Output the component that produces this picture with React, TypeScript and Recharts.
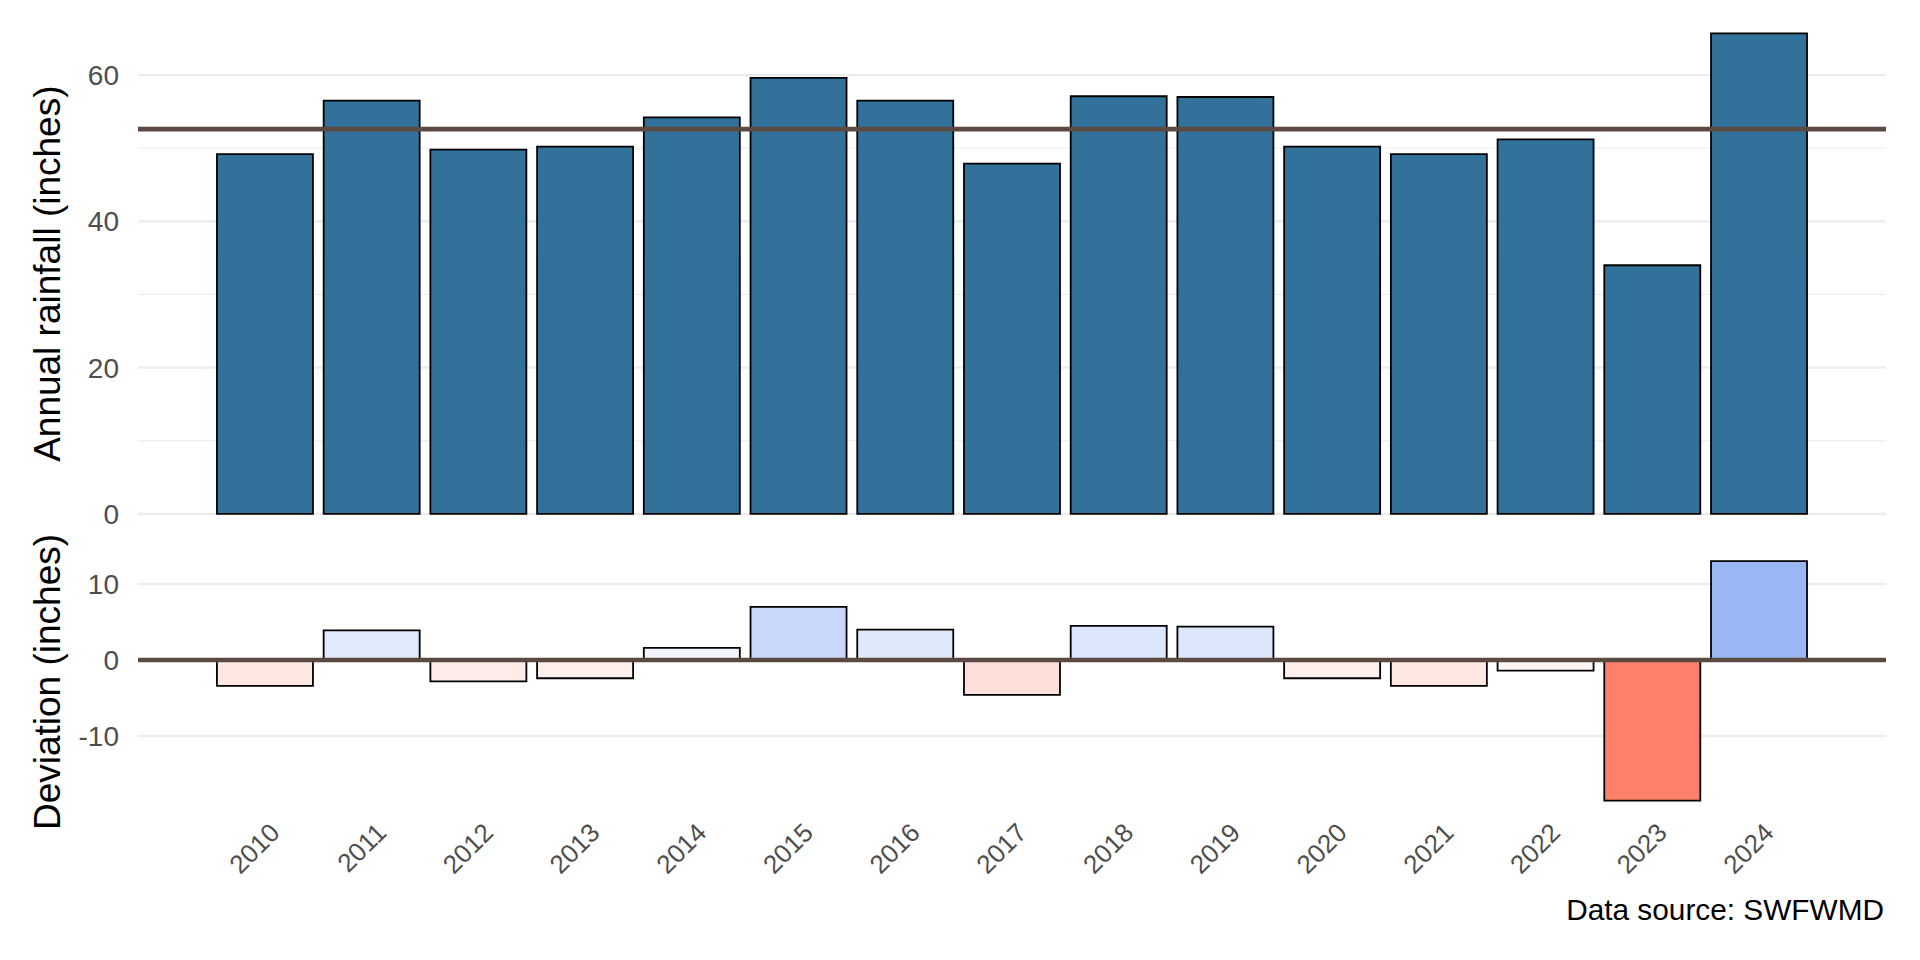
import React from 'react';
import {
  BarChart,
  Bar,
  XAxis,
  YAxis,
  CartesianGrid,
  ReferenceLine,
  Cell,
} from 'recharts';

const years = [
  '2010', '2011', '2012', '2013', '2014', '2015', '2016', '2017',
  '2018', '2019', '2020', '2021', '2022', '2023', '2024',
];
const rainfall = [
  49.2, 56.5, 49.8, 50.2, 54.2, 59.6, 56.5, 47.9, 57.1, 57.0, 50.2, 49.2,
  51.2, 34.0, 65.7,
];
const deviation = [
  -3.4, 3.9, -2.8, -2.4, 1.6, 7.0, 4.0, -4.6, 4.5, 4.4, -2.4, -3.4, -1.4,
  -18.5, 13.0,
];
const meanRainfall = 52.6;

const rainTicks = [0, 20, 40, 60];
const rainMinorTicks = [10, 30, 50];
const devTicks = [-10, 0, 10];

const FONT = '"Liberation Sans", Arial, Helvetica, sans-serif';
const LINE_COLOR = '#5b4a42';
const GRID = '#ebebeb';

const data = years.map((year, i) => ({
  year,
  rainfall: rainfall[i],
  deviation: deviation[i],
}));

// diverging fill: white at 0, salmon for deficits, blue for surpluses
const lowRGB = [255, 128, 106];
const highRGB = [111, 153, 241];
const devExtent = Math.max(...deviation.map((d) => Math.abs(d)));

function devFill(v: number) {
  const t = Math.min(1, Math.abs(v) / devExtent);
  const target = v < 0 ? lowRGB : highRGB;
  const c = target.map((ch) => Math.round(255 + (ch - 255) * t));
  return `rgb(${c[0]}, ${c[1]}, ${c[2]})`;
}

const xPadding = { left: 73.6, right: 73.6 };

function YearTick(props: any) {
  const { x, y, payload } = props;
  const ax = x + 3;
  return (
    <text
      x={ax}
      y={y}
      transform={`rotate(-45 ${ax} ${y})`}
      textAnchor="end"
      dy="0.72em"
      fontSize={26}
      fill="#4d4d4d"
    >
      {payload.value}
    </text>
  );
}

export default function App() {
  return (
    <div
      style={{
        position: 'relative',
        width: 1920,
        height: 960,
        background: '#fff',
        fontFamily: FONT,
        overflow: 'hidden',
      }}
    >
      <style>{'body { margin: 0; }'}</style>

      <div style={{ position: 'absolute', left: 0, top: 0 }}>
        <BarChart
          width={1920}
          height={546}
          data={data}
          margin={{ top: 9.3, right: 34, bottom: 8, left: 0 }}
          barCategoryGap="5%"
        >
          <CartesianGrid
            vertical={false}
            horizontalValues={rainMinorTicks}
            stroke={GRID}
            strokeWidth={1.1}
          />
          <CartesianGrid
            vertical={false}
            horizontalValues={rainTicks}
            stroke={GRID}
            strokeWidth={2.2}
          />
          <XAxis dataKey="year" hide padding={xPadding} />
          <YAxis
            type="number"
            domain={[-3.285, 68.985]}
            ticks={rainTicks}
            allowDataOverflow
            width={138}
            tickLine={false}
            axisLine={false}
            tickSize={0}
            tickMargin={19}
            tick={{ fontSize: 28, fill: '#4d4d4d' }}
          />
          <Bar
            dataKey="rainfall"
            fill="#1c628e"
            fillOpacity={0.9}
            stroke="#000"
            strokeWidth={1.8}
            isAnimationActive={false}
          />
          <ReferenceLine y={meanRainfall} stroke={LINE_COLOR} strokeWidth={4.7} />
        </BarChart>
      </div>

      <div style={{ position: 'absolute', left: 0, top: 540 }}>
        <BarChart
          width={1920}
          height={420}
          data={data}
          margin={{ top: 9.2, right: 34, bottom: 47.4, left: 0 }}
          barCategoryGap="5%"
        >
          <CartesianGrid
            vertical={false}
            horizontalValues={devTicks}
            stroke={GRID}
            strokeWidth={2.2}
          />
          <XAxis
            dataKey="year"
            padding={xPadding}
            height={100}
            interval={0}
            tickLine={false}
            axisLine={false}
            tickSize={0}
            tickMargin={8.4}
            tick={<YearTick />}
          />
          <YAxis
            type="number"
            domain={[-20.075, 14.575]}
            ticks={devTicks}
            allowDataOverflow
            width={138}
            tickLine={false}
            axisLine={false}
            tickSize={0}
            tickMargin={19}
            tick={{ fontSize: 28, fill: '#4d4d4d' }}
          />
          <Bar
            dataKey="deviation"
            stroke="#000"
            strokeWidth={1.8}
            isAnimationActive={false}
          >
            {data.map((d) => (
              <Cell key={d.year} fill={devFill(d.deviation)} />
            ))}
          </Bar>
          <ReferenceLine y={0} stroke={LINE_COLOR} strokeWidth={4.7} />
        </BarChart>
      </div>

      <svg
        width={1920}
        height={960}
        style={{ position: 'absolute', left: 0, top: 0, pointerEvents: 'none' }}
      >
        <text
          x={60.4}
          y={273.7}
          transform="rotate(-90 60.4 273.7)"
          textAnchor="middle"
          fontSize={37}
          fill="#000"
        >
          Annual rainfall (inches)
        </text>
        <text
          x={60.4}
          y={682}
          transform="rotate(-90 60.4 682)"
          textAnchor="middle"
          fontSize={37}
          fill="#000"
        >
          Deviation (inches)
        </text>
        <text x={1884} y={920} textAnchor="end" fontSize={29.8} fill="#000">
          Data source: SWFWMD
        </text>
      </svg>
    </div>
  );
}
